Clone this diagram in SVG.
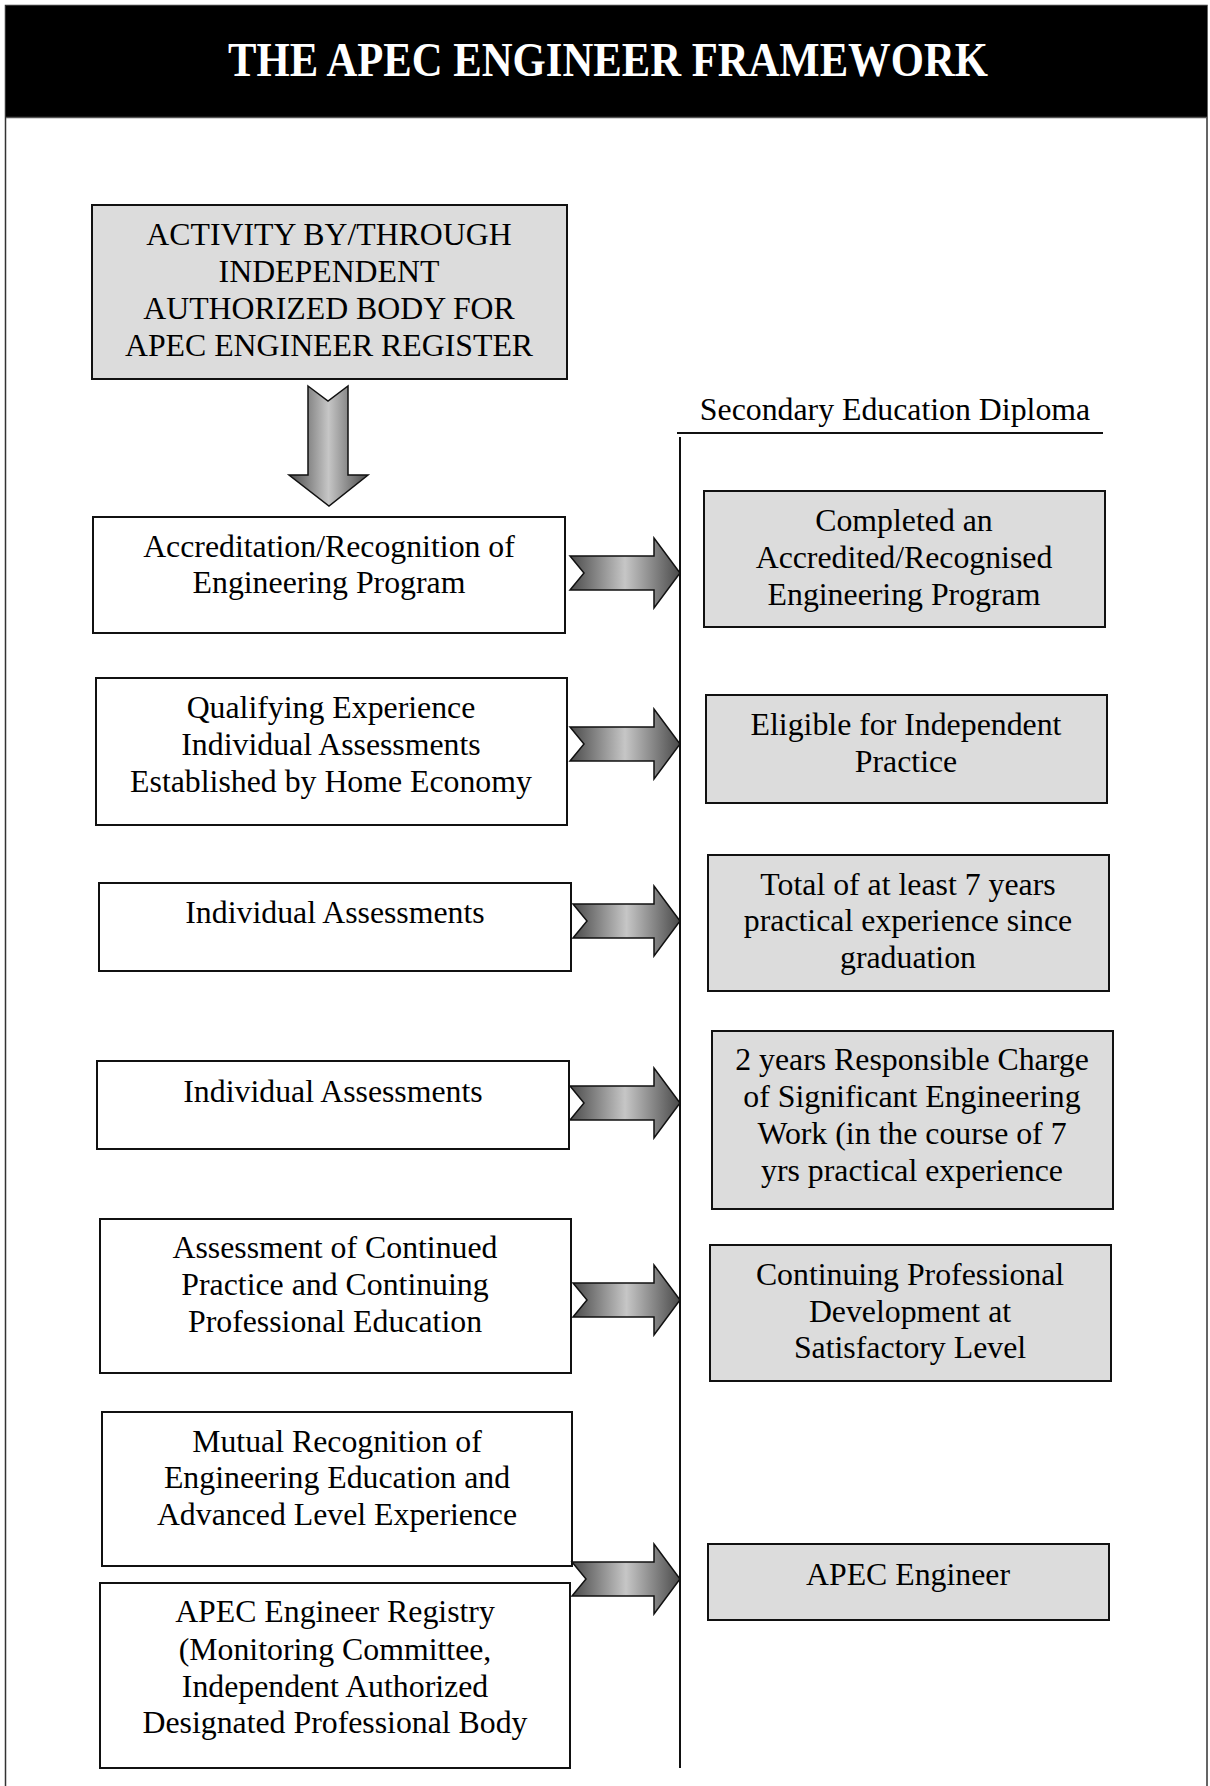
<svg xmlns="http://www.w3.org/2000/svg" width="1210" height="1786" viewBox="0 0 1210 1786">
<style>
.box{fill:#ffffff;stroke:#111;stroke-width:2}
.gbox{fill:#dcdcdc;stroke:#111;stroke-width:2}
.t{font-family:"Liberation Serif","Times New Roman",serif;font-size:31.8px;fill:#000;text-anchor:middle}
.arr{fill:url(#ag);stroke:#111;stroke-width:1.5;stroke-linejoin:miter}
.ln{stroke:#111;stroke-width:2;fill:none}
</style>
<defs>
<linearGradient id="ag" x1="0" y1="0" x2="1" y2="0">
<stop offset="0" stop-color="#4a4a4a"/>
<stop offset="0.5" stop-color="#c6c6c6"/>
<stop offset="1" stop-color="#4a4a4a"/>
</linearGradient>
</defs>
<rect x="0" y="0" width="1210" height="1786" fill="#ffffff"/>
<g id="page">
<rect x="5.5" y="5.5" width="1201.5" height="1800" fill="none" stroke="#333" stroke-width="1.5"/>
<rect x="6" y="6" width="1201" height="111" fill="#000"/>
<line x1="6" y1="117.5" x2="1207" y2="117.5" stroke="#555" stroke-width="1.5"/>
<text x="608" y="76" font-family="'Liberation Serif','Times New Roman',serif" font-size="48" font-weight="bold" fill="#fff" text-anchor="middle" textLength="760" lengthAdjust="spacingAndGlyphs">THE APEC ENGINEER FRAMEWORK</text>
</g>
<g id="timeline">
<text class="t" x="895" y="420">Secondary Education Diploma</text>
<line class="ln" x1="677" y1="433" x2="1103" y2="433"/>
<line class="ln" x1="680" y1="437" x2="680" y2="1768"/>
</g>
<g id="node-authority">
<rect class="gbox" x="92" y="205" width="475" height="174"/>
<text class="t" x="329" y="245">ACTIVITY BY/THROUGH</text>
<text class="t" x="329" y="282">INDEPENDENT</text>
<text class="t" x="329" y="319">AUTHORIZED BODY FOR</text>
<text class="t" x="329" y="356">APEC ENGINEER REGISTER</text>
</g>
<g id="node-accreditation">
<rect class="box" x="93" y="517" width="472" height="116"/>
<text class="t" x="329" y="557">Accreditation/Recognition of</text>
<text class="t" x="329" y="593">Engineering Program</text>
</g>
<g id="node-qualifying">
<rect class="box" x="96" y="678" width="471" height="147"/>
<text class="t" x="331" y="718">Qualifying Experience</text>
<text class="t" x="331" y="755">Individual Assessments</text>
<text class="t" x="331" y="792">Established by Home Economy</text>
</g>
<g id="node-assess1">
<rect class="box" x="99" y="883" width="472" height="88"/>
<text class="t" x="335" y="923">Individual Assessments</text>
</g>
<g id="node-assess2">
<rect class="box" x="97" y="1061" width="472" height="88"/>
<text class="t" x="333" y="1102">Individual Assessments</text>
</g>
<g id="node-continued">
<rect class="box" x="100" y="1219" width="471" height="154"/>
<text class="t" x="335" y="1258">Assessment of Continued</text>
<text class="t" x="335" y="1295">Practice and Continuing</text>
<text class="t" x="335" y="1332">Professional Education</text>
</g>
<g id="node-mutual">
<rect class="box" x="102" y="1412" width="470" height="154"/>
<text class="t" x="337" y="1452">Mutual Recognition of</text>
<text class="t" x="337" y="1488">Engineering Education and</text>
<text class="t" x="337" y="1525">Advanced Level Experience</text>
</g>
<g id="node-registry">
<rect class="box" x="100" y="1583" width="470" height="185"/>
<text class="t" x="335" y="1622">APEC Engineer Registry</text>
<text class="t" x="335" y="1660">(Monitoring Committee,</text>
<text class="t" x="335" y="1697">Independent Authorized</text>
<text class="t" x="335" y="1733">Designated Professional Body</text>
</g>
<g id="node-completed">
<rect class="gbox" x="704" y="491" width="401" height="136"/>
<text class="t" x="904" y="531">Completed an</text>
<text class="t" x="904" y="568">Accredited/Recognised</text>
<text class="t" x="904" y="605">Engineering Program</text>
</g>
<g id="node-eligible">
<rect class="gbox" x="706" y="695" width="401" height="108"/>
<text class="t" x="906" y="735">Eligible for Independent</text>
<text class="t" x="906" y="772">Practice</text>
</g>
<g id="node-total">
<rect class="gbox" x="708" y="855" width="401" height="136"/>
<text class="t" x="908" y="895">Total of at least 7 years</text>
<text class="t" x="908" y="931">practical experience since</text>
<text class="t" x="908" y="968">graduation</text>
</g>
<g id="node-responsible">
<rect class="gbox" x="712" y="1031" width="401" height="178"/>
<text class="t" x="912" y="1070">2 years Responsible Charge</text>
<text class="t" x="912" y="1107">of Significant Engineering</text>
<text class="t" x="912" y="1144">Work (in the course of 7</text>
<text class="t" x="912" y="1181">yrs practical experience</text>
</g>
<g id="node-cpd">
<rect class="gbox" x="710" y="1245" width="401" height="136"/>
<text class="t" x="910" y="1285">Continuing Professional</text>
<text class="t" x="910" y="1322">Development at</text>
<text class="t" x="910" y="1358">Satisfactory Level</text>
</g>
<g id="node-apec">
<rect class="gbox" x="708" y="1544" width="401" height="76"/>
<text class="t" x="908" y="1585">APEC Engineer</text>
</g>
<g id="connectors">
<path class="arr" d="M308,386 L328,401 L348,386 L348,475 L368,475 L329,506 L289,475 L308,475 Z"/>
<path class="arr" d="M570,556 L654,556 L654,538 L680,573 L654,608 L654,590 L570,590 L584,573 Z"/>
<path class="arr" d="M570,727 L654,727 L654,709 L680,744 L654,779 L654,761 L570,761 L584,744 Z"/>
<path class="arr" d="M573,904 L654,904 L654,886 L680,921 L654,956 L654,938 L573,938 L587,921 Z"/>
<path class="arr" d="M570,1086 L654,1086 L654,1068 L680,1103 L654,1138 L654,1120 L570,1120 L584,1103 Z"/>
<path class="arr" d="M573,1283 L654,1283 L654,1265 L680,1300 L654,1335 L654,1317 L573,1317 L587,1300 Z"/>
<path class="arr" d="M572,1562 L654,1562 L654,1544 L680,1579 L654,1614 L654,1596 L572,1596 L586,1579 Z"/>
</g>
</svg>
